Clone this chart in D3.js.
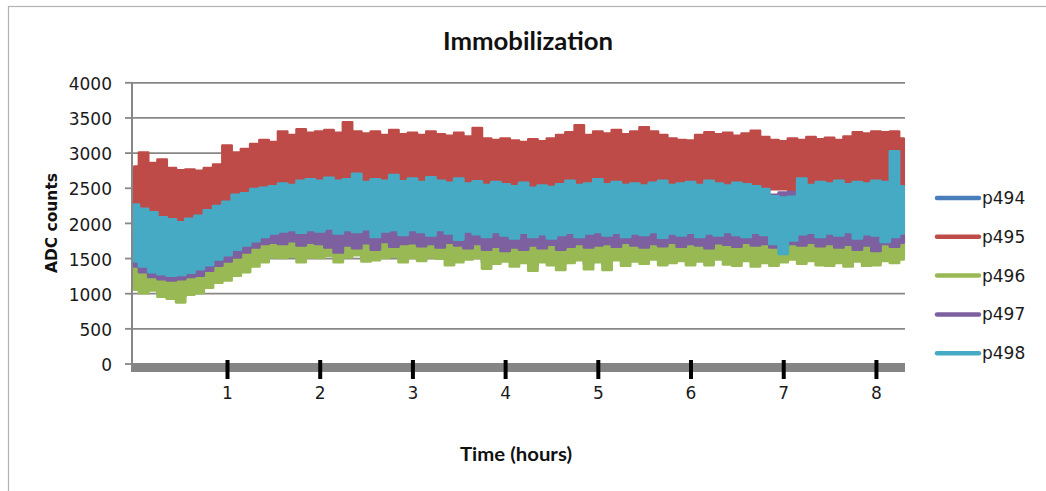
<!DOCTYPE html>
<html>
<head>
<meta charset="utf-8">
<script src="https://cdn.jsdelivr.net/npm/d3@7"></script>
<style>
  html, body { margin: 0; padding: 0; background: #ffffff; }
  svg { display: block; }
</style>
</head>
<body>
<svg id="chart" width="1046" height="491"></svg>
<script>
// Immobilization recording: ADC counts of five probes, summarised as the
// minimum / maximum reached in each 0.1 h window (0 – 8.3 h).
const sampleHours = d3.range(84).map(i => i / 10);

const seriesNames = ["p494", "p495", "p496", "p497", "p498"];

const p494Max = [1450,1400,1380,1350,1330,1340,1360,1400,1450,1500,
  1550,1620,1680,1720,1760,1780,1800,1800,1790,1800,
  1790,1810,1780,1800,1820,1770,1790,1800,1810,1780,
  1800,1790,1810,1780,1770,1800,1790,1810,1760,1780,
  1770,1760,1790,1750,1780,1770,1750,1780,1800,1760,
  1790,1770,1800,1780,1790,1770,1800,1780,1790,1800,
  1780,1790,1770,1800,1780,1770,1790,1760,1780,1770,
  1790,1800,1780,1790,1770,1780,1790,1760,1800,1780,
  1770,1790,1780,1800];
const p494Min = [1120,1080,1100,1020,1000,960,1050,1080,1150,1220,
  1260,1320,1370,1450,1510,1570,1570,1580,1520,1570,
  1570,1590,1520,1570,1600,1520,1540,1560,1580,1510,
  1560,1530,1570,1550,1480,1510,1540,1560,1440,1490,
  1520,1460,1500,1410,1500,1470,1420,1490,1530,1420,
  1500,1420,1530,1460,1510,1480,1540,1470,1490,1520,
  1470,1510,1470,1540,1480,1460,1520,1450,1490,1460,
  1500,1540,1480,1520,1470,1460,1490,1450,1510,1460,
  1470,1520,1490,1540];

const p495Max = [2800,3000,2850,2900,2780,2750,2760,2740,2780,2830,
  3100,3000,3050,3120,3180,3150,3300,3250,3330,3280,
  3300,3320,3280,3430,3300,3270,3300,3250,3320,3260,
  3280,3250,3300,3260,3240,3280,3230,3350,3200,3180,
  3200,3170,3150,3190,3160,3200,3250,3290,3390,3250,
  3300,3270,3320,3260,3300,3360,3300,3250,3200,3180,
  3170,3250,3290,3260,3280,3240,3270,3310,3220,3180,
  3160,3200,3180,3220,3190,3210,3180,3230,3290,3270,
  3300,3290,3300,3200];
const p495Min = [2150,2100,2050,2000,1980,1950,1990,2020,2100,2150,
  2220,2300,2350,2400,2420,2450,2480,2470,2500,2520,
  2500,2520,2490,2510,2530,2480,2500,2510,2520,2480,
  2500,2490,2510,2480,2470,2500,2480,2490,2470,2490,
  2480,2460,2490,2450,2470,2460,2480,2500,2470,2490,
  2510,2480,2500,2470,2490,2470,2490,2500,2470,2490,
  2500,2470,2510,2480,2470,2490,2480,2470,2460,2480,
  2480,2470,2520,2480,2500,2490,2510,2480,2500,2490,
  2510,2500,2480,2460];

const p496Max = [1500,1450,1400,1380,1350,1360,1380,1420,1480,1540,
  1600,1680,1750,1800,1850,1870,1880,1900,1890,1900,
  1890,1910,1880,1900,1920,1870,1890,1900,1910,1880,
  1900,1890,1910,1880,1870,1900,1890,1910,1860,1880,
  1870,1860,1890,1850,1880,1870,1850,1880,1900,1860,
  1890,1870,1900,1880,1890,1870,1900,1880,1890,1900,
  1880,1890,1870,1900,1880,1870,1890,1860,1880,1870,
  1890,1900,1880,1890,1870,1880,1890,1860,1900,1880,
  1870,1890,1880,1900];
const p496Min = [1050,1000,1040,950,920,870,980,1000,1080,1150,
  1180,1250,1300,1380,1440,1510,1500,1520,1440,1510,
  1500,1530,1440,1510,1540,1450,1470,1500,1520,1440,
  1500,1460,1510,1490,1400,1440,1480,1500,1350,1420,
  1450,1380,1430,1320,1440,1400,1330,1430,1470,1340,
  1440,1330,1470,1390,1450,1420,1480,1400,1430,1460,
  1400,1450,1400,1480,1410,1390,1460,1380,1430,1390,
  1440,1480,1420,1460,1400,1390,1430,1380,1450,1390,
  1400,1460,1430,1480];

const p497Max = [1950,1900,1850,1800,1780,1760,1800,1850,1900,1950,
  2000,2080,2150,2200,2250,2280,2300,2300,2320,2300,
  2310,2300,2320,2290,2300,2310,2290,2300,2320,2300,
  2300,2290,2310,2300,2280,2300,2290,2310,2280,2300,
  2290,2280,2300,2270,2290,2300,2280,2290,2310,2280,
  2300,2290,2310,2290,2300,2280,2300,2290,2310,2300,
  2290,2300,2280,2310,2290,2280,2300,2290,2300,2400,
  2430,2440,2350,2300,2290,2300,2280,2300,2290,2300,
  2280,2300,2290,2300];
const p497Min = [1380,1300,1230,1200,1180,1200,1230,1250,1320,1390,
  1450,1510,1580,1650,1700,1720,1700,1740,1680,1720,
  1700,1650,1580,1680,1640,1710,1620,1730,1660,1700,
  1710,1670,1700,1650,1720,1680,1640,1700,1620,1660,
  1600,1650,1620,1680,1640,1690,1620,1660,1700,1650,
  1680,1700,1660,1720,1680,1650,1700,1670,1720,1660,
  1700,1680,1640,1710,1690,1660,1720,1680,1700,1650,
  1660,1700,1680,1720,1670,1700,1650,1690,1620,1680,
  1600,1700,1660,1720];

const p498Max = [2260,2200,2150,2080,2050,2010,2060,2100,2180,2240,
  2300,2400,2420,2480,2500,2520,2560,2540,2600,2620,
  2600,2640,2600,2620,2700,2580,2620,2600,2680,2590,
  2630,2580,2650,2600,2570,2630,2560,2590,2540,2580,
  2550,2520,2570,2500,2530,2510,2550,2600,2540,2560,
  2620,2550,2580,2540,2560,2530,2570,2600,2540,2560,
  2580,2540,2600,2560,2530,2570,2550,2520,2480,2380,
  2360,2370,2630,2540,2580,2560,2600,2550,2580,2560,
  2600,2580,3020,2520];
const p498Min = [1450,1380,1300,1270,1250,1260,1290,1340,1400,1480,
  1540,1620,1680,1740,1800,1850,1880,1900,1860,1900,
  1880,1920,1850,1900,1870,1910,1800,1880,1900,1830,
  1900,1870,1820,1900,1850,1760,1880,1840,1800,1870,
  1820,1780,1860,1800,1840,1780,1830,1860,1800,1850,
  1870,1820,1860,1800,1850,1830,1870,1790,1850,1820,
  1860,1800,1850,1820,1870,1830,1800,1860,1830,1700,
  1560,1750,1840,1860,1800,1850,1820,1870,1780,1840,
  1820,1730,1800,1850];

const seriesMax = [p494Max, p495Max, p496Max, p497Max, p498Max];
const seriesMin = [p494Min, p495Min, p496Min, p497Min, p498Min];

const yTickValues = [0, 500, 1000, 1500, 2000, 2500, 3000, 3500, 4000];
const xTickHours = [1, 2, 3, 4, 5, 6, 7, 8];

const chartTitle = "Immobilization";
const xTitle = "Time (hours)";
const yTitle = "ADC counts";

// ---- styling ----
const seriesColors = ["#4a7ebb", "#be4b48", "#98b954", "#7d60a0", "#46aac5"];
const gridColor = "#878787";
const labelFont = "'DejaVu Sans', Verdana, sans-serif";
const titleFont = "Lato, 'Open Sans', sans-serif";

const svg = d3.select("#chart");

// chart frame
svg.append("rect")
  .attr("x", 8.5).attr("y", 6.5)
  .attr("width", 1100).attr("height", 600)
  .attr("fill", "none")
  .attr("stroke", "#b3b3b3")
  .attr("stroke-width", 1.2);

const plot = { left: 132, right: 905, top: 82.3, bottom: 363.5 };

const x = d3.scaleLinear().domain([0, 8.32]).range([134.3, 905.6]);
const y = d3.scaleLinear().domain([0, 4000]).range([plot.bottom, plot.top]);

// horizontal gridlines
svg.append("g")
  .attr("transform", `translate(${plot.left},0)`)
  .call(d3.axisLeft(y).tickValues(yTickValues)
    .tickSize(-(plot.right - plot.left)).tickFormat(""))
  .call(g => g.select(".domain").remove())
  .call(g => g.selectAll("line").attr("stroke", gridColor).attr("stroke-width", 1.8));

// value axis: ticks, labels and spine
const yAxis = svg.append("g")
  .attr("transform", `translate(${plot.left},0)`)
  .call(d3.axisLeft(y).tickValues(yTickValues).tickSize(7).tickPadding(13)
    .tickFormat(d3.format("d")));
yAxis.select(".domain").remove();
yAxis.selectAll("line").attr("stroke", gridColor).attr("stroke-width", 1.8);
yAxis.selectAll("text")
  .attr("fill", "#1a1a1a")
  .attr("dy", "0.42em")
  .style("font-family", labelFont)
  .style("font-size", "17px");

svg.append("line")
  .attr("x1", plot.left).attr("x2", plot.left)
  .attr("y1", plot.top).attr("y2", y(0) + 8.5)
  .attr("stroke", gridColor).attr("stroke-width", 2);

// series bands (drawn in legend order, later series on top);
// each 0.1 h window is held flat so the noisy envelope reads as teeth
const band = d3.area()
  .x((d, i) => x(sampleHours[i]))
  .y0(d => y(d[0]))
  .y1(d => y(d[1]))
  .curve(d3.curveStep);

const seriesG = svg.append("g");
seriesNames.forEach((name, s) => {
  const rows = sampleHours.map((h, i) => [seriesMin[s][i], seriesMax[s][i]]);
  seriesG.append("path")
    .datum(rows)
    .attr("d", band)
    .attr("fill", seriesColors[s])
    .attr("stroke", seriesColors[s])
    .attr("stroke-width", 2.6)
    .attr("stroke-linejoin", "round");
});

// time axis: thick grey bar with black hour ticks
svg.append("rect")
  .attr("x", plot.left).attr("y", y(0) - 0.5)
  .attr("width", plot.right - plot.left).attr("height", 9)
  .attr("fill", "#858585");

const xAxis = svg.append("g")
  .attr("transform", `translate(0,${y(0) - 3.5})`)
  .call(d3.axisBottom(x).tickValues(xTickHours).tickSize(19).tickPadding(8)
    .tickFormat(d3.format("d")));
xAxis.select(".domain").remove();
xAxis.selectAll("line").attr("stroke", "#000").attr("stroke-width", 4);
xAxis.selectAll("text")
  .attr("fill", "#1a1a1a")
  .style("font-family", labelFont)
  .style("font-size", "17px");

// titles
svg.append("text")
  .attr("x", 528).attr("y", 50)
  .attr("text-anchor", "middle")
  .attr("textLength", 170).attr("lengthAdjust", "spacingAndGlyphs")
  .style("font-family", titleFont).style("font-weight", "bold")
  .style("font-size", "24px").attr("fill", "#111")
  .text(chartTitle);

svg.append("text")
  .attr("x", 516).attr("y", 461)
  .attr("text-anchor", "middle")
  .attr("textLength", 112).attr("lengthAdjust", "spacingAndGlyphs")
  .style("font-family", titleFont).style("font-weight", "bold")
  .style("font-size", "18px").attr("fill", "#111")
  .text(xTitle);

svg.append("text")
  .attr("transform", "translate(57,223) rotate(-90)")
  .attr("text-anchor", "middle")
  .attr("textLength", 100).attr("lengthAdjust", "spacingAndGlyphs")
  .style("font-family", labelFont).style("font-weight", "bold")
  .style("font-size", "15px").attr("fill", "#111")
  .text(yTitle);

// legend
const legend = svg.append("g");
seriesNames.forEach((name, s) => {
  const ly = 198 + s * 38.8;
  legend.append("line")
    .attr("x1", 937).attr("x2", 979)
    .attr("y1", ly).attr("y2", ly)
    .attr("stroke", seriesColors[s])
    .attr("stroke-width", 4.5)
    .attr("stroke-linecap", "round");
  legend.append("text")
    .attr("x", 982).attr("y", ly + 6)
    .style("font-family", labelFont)
    .style("font-size", "17px")
    .attr("fill", "#1a1a1a")
    .text(name);
});
</script>
</body>
</html>
